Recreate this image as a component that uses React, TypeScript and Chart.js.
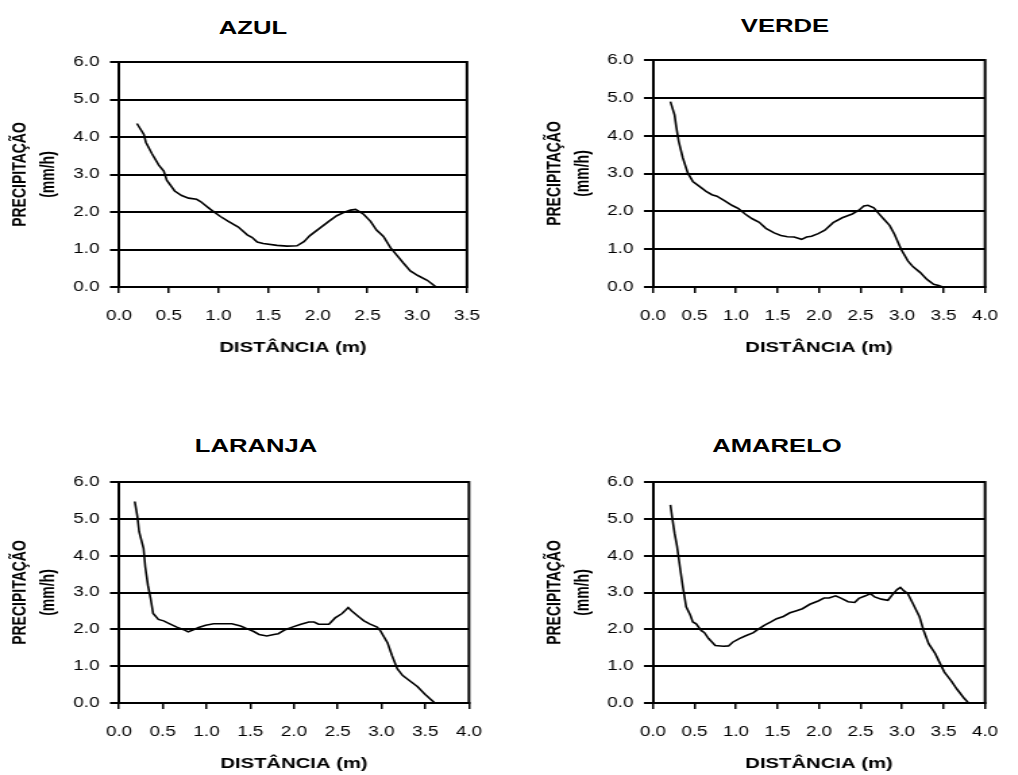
import React, { useEffect, useRef } from 'react';
import { Chart, registerables } from 'chart.js';

Chart.register(...registerables);

// horizontal stretch of the whole figure
const S = 1.35;

const yAxisTitle = ['PRECIPITAÇÃO', '(mm/h)'];
const xAxisTitle = 'DISTÂNCIA (m)';

const azulX = [0.18, 0.25, 0.27, 0.33, 0.40, 0.45, 0.48, 0.56, 0.63, 0.70, 0.78, 0.82, 0.92, 1.02, 1.10, 1.20, 1.29, 1.34, 1.39, 1.45, 1.59, 1.69, 1.79, 1.86, 1.92, 2.02, 2.11, 2.19, 2.28, 2.33, 2.38, 2.46, 2.53, 2.59, 2.66, 2.73, 2.80, 2.86, 2.93, 3.01, 3.10, 3.19];
const azulY = [4.36, 4.07, 3.86, 3.56, 3.25, 3.09, 2.85, 2.56, 2.44, 2.37, 2.34, 2.28, 2.07, 1.88, 1.75, 1.60, 1.39, 1.32, 1.20, 1.16, 1.11, 1.09, 1.10, 1.21, 1.37, 1.57, 1.75, 1.90, 2.01, 2.05, 2.07, 1.94, 1.75, 1.52, 1.35, 1.05, 0.83, 0.64, 0.43, 0.30, 0.18, 0.00];

const verdeX = [0.21, 0.26, 0.28, 0.31, 0.36, 0.42, 0.48, 0.56, 0.64, 0.71, 0.77, 0.87, 0.95, 1.03, 1.11, 1.19, 1.28, 1.36, 1.46, 1.54, 1.62, 1.70, 1.79, 1.85, 1.91, 1.99, 2.07, 2.17, 2.28, 2.40, 2.48, 2.54, 2.59, 2.66, 2.72, 2.79, 2.85, 2.91, 2.99, 3.07, 3.13, 3.22, 3.30, 3.38, 3.44, 3.49];
const verdeY = [4.90, 4.55, 4.24, 3.85, 3.41, 3.01, 2.79, 2.66, 2.53, 2.44, 2.40, 2.27, 2.16, 2.07, 1.93, 1.81, 1.71, 1.55, 1.43, 1.36, 1.33, 1.32, 1.26, 1.32, 1.34, 1.41, 1.50, 1.70, 1.83, 1.93, 2.03, 2.14, 2.16, 2.09, 1.94, 1.77, 1.63, 1.39, 0.99, 0.69, 0.54, 0.38, 0.20, 0.07, 0.04, 0.00];

const laranjaX = [0.18, 0.21, 0.23, 0.28, 0.30, 0.33, 0.36, 0.39, 0.45, 0.51, 0.58, 0.66, 0.74, 0.79, 0.85, 0.91, 0.99, 1.08, 1.20, 1.29, 1.39, 1.46, 1.54, 1.60, 1.69, 1.77, 1.82, 1.90, 1.98, 2.07, 2.17, 2.23, 2.28, 2.40, 2.47, 2.55, 2.62, 2.66, 2.74, 2.80, 2.87, 2.95, 2.99, 3.07, 3.12, 3.18, 3.24, 3.33, 3.41, 3.50, 3.61];
const laranjaY = [5.47, 5.06, 4.65, 4.20, 3.70, 3.20, 2.85, 2.43, 2.27, 2.23, 2.15, 2.06, 1.99, 1.93, 1.99, 2.05, 2.11, 2.15, 2.15, 2.15, 2.09, 2.02, 1.94, 1.86, 1.82, 1.86, 1.88, 1.99, 2.06, 2.13, 2.20, 2.20, 2.14, 2.14, 2.31, 2.43, 2.59, 2.50, 2.34, 2.23, 2.14, 2.06, 1.95, 1.63, 1.29, 0.93, 0.75, 0.59, 0.45, 0.23, 0.00];

const amareloX = [0.21, 0.23, 0.26, 0.29, 0.33, 0.36, 0.38, 0.40, 0.45, 0.48, 0.52, 0.58, 0.62, 0.67, 0.75, 0.85, 0.91, 0.96, 1.04, 1.11, 1.21, 1.26, 1.34, 1.42, 1.49, 1.57, 1.65, 1.72, 1.80, 1.89, 1.99, 2.06, 2.12, 2.20, 2.27, 2.35, 2.43, 2.48, 2.56, 2.62, 2.67, 2.75, 2.83, 2.88, 2.94, 2.98, 3.02, 3.07, 3.13, 3.21, 3.26, 3.32, 3.40, 3.45, 3.51, 3.59, 3.66, 3.74, 3.80];
const amareloY = [5.38, 5.06, 4.61, 4.25, 3.61, 3.15, 2.88, 2.61, 2.38, 2.20, 2.15, 1.97, 1.91, 1.75, 1.56, 1.54, 1.55, 1.65, 1.75, 1.82, 1.91, 1.99, 2.11, 2.20, 2.29, 2.35, 2.45, 2.50, 2.56, 2.68, 2.77, 2.85, 2.85, 2.91, 2.84, 2.75, 2.73, 2.84, 2.91, 2.97, 2.88, 2.82, 2.79, 2.93, 3.08, 3.14, 3.05, 2.97, 2.70, 2.34, 1.97, 1.61, 1.34, 1.11, 0.84, 0.61, 0.38, 0.15, 0.00];

const FONT = "'Liberation Sans', Arial, sans-serif";

const rightBorder = {
  id: 'rightBorder',
  afterDraw(chart: any) {
    const { ctx, chartArea } = chart;
    ctx.save();
    ctx.strokeStyle = '#000';
    ctx.lineWidth = 2;
    ctx.beginPath();
    ctx.moveTo(chartArea.right, chartArea.top - 1);
    ctx.lineTo(chartArea.right, chartArea.bottom + 1);
    ctx.stroke();
    ctx.restore();
  },
};

type PanelProps = {
  title: string;
  xs: number[];
  ys: number[];
  xMax: number;
  left: number;
  top: number;
  w: number;
  h: number;
  plotLeft: number;
  plotRight: number;
  plotTop: number;
  plotBottom: number;
  yTitlePad: number;
  titleX: number;
  titleY: number;
};

function Panel(p: PanelProps) {
  const ref = useRef<HTMLCanvasElement>(null);
  useEffect(() => {
    if (!ref.current) return;
    const Hx = 72;
    const chart = new Chart(ref.current, {
      type: 'line',
      data: {
        datasets: [
          {
            data: p.xs.map((x, i) => ({ x, y: p.ys[i] })),
            borderColor: '#000',
            borderWidth: 1.6,
            pointRadius: 0,
            tension: 0,
            fill: false,
          },
        ],
      },
      options: {
        animation: false,
        responsive: false,
        events: [],
        layout: {
          padding: {
            top: p.plotTop,
            left: 0,
            right: p.w - p.plotRight,
            bottom: p.h - p.plotBottom - Hx,
          },
        },
        plugins: { legend: { display: false }, tooltip: { enabled: false }, title: { display: false } },
        scales: {
          x: {
            type: 'linear',
            min: 0,
            max: p.xMax,
            afterFit: (s: any) => { s.height = Hx; },
            ticks: {
              stepSize: 0.5,
              color: '#000',
              padding: 14.6,
              maxRotation: 0,
              font: { family: FONT, size: 14 },
              callback: (v: any) => Number(v).toFixed(1),
            },
            grid: { drawOnChartArea: false, drawTicks: true, tickLength: 6, color: '#000', lineWidth: 1.5 },
            border: { display: true, color: '#000', width: 2 },
            title: {
              display: true,
              text: xAxisTitle,
              color: '#000',
              font: { family: FONT, size: 15, weight: 'bold' },
              padding: { top: 0, bottom: 2 },
            },
          },
          y: {
            min: 0,
            max: 6,
            afterFit: (s: any) => { s.width = p.plotLeft; },
            ticks: {
              stepSize: 1,
              color: '#000',
              padding: 7.7,
              font: { family: FONT, size: 14 },
              callback: (v: any) => Number(v).toFixed(1),
            },
            grid: { color: '#000', lineWidth: 2, tickLength: 6.7, drawTicks: true },
            border: { display: true, color: '#000', width: 2 },
            title: {
              display: true,
              text: yAxisTitle,
              color: '#000',
              font: { family: FONT, size: 14, weight: 'bold', lineHeight: 1.48 },
              padding: { top: p.yTitlePad, bottom: 0 },
            },
          },
        },
      },
      plugins: [rightBorder],
    } as any);
    return () => chart.destroy();
  }, []);

  return (
    <>
      <div
        style={{
          position: 'absolute',
          left: p.titleX - 150,
          top: p.titleY - 11.8,
          width: 300,
          textAlign: 'center',
          fontFamily: FONT,
          fontWeight: 'bold',
          fontSize: 19,
          lineHeight: '24px',
          color: '#000',
        }}
      >
        {p.title}
      </div>
      <canvas
        ref={ref}
        width={p.w}
        height={p.h}
        style={{ position: 'absolute', left: p.left, top: p.top }}
      />
    </>
  );
}

export default function App() {
  const W = 1018 / S / 2;
  const loc = (fx: number) => fx / S;
  return (
    <div
      style={{
        position: 'absolute',
        left: 0,
        top: 0,
        width: 1018 / S,
        height: 775,
        background: '#fff',
        transform: `scaleX(${S})`,
        transformOrigin: '0 0',
        overflow: 'hidden',
      }}
    >
      <Panel title="AZUL" xs={azulX} ys={azulY} xMax={3.5}
        left={0} top={0} w={W} h={390}
        plotLeft={loc(119)} plotRight={loc(467)} plotTop={62} plotBottom={287}
        yTitlePad={5.2} titleX={loc(253)} titleY={27.5} />
      <Panel title="VERDE" xs={verdeX} ys={verdeY} xMax={4}
        left={W} top={0} w={W} h={390}
        plotLeft={loc(653 - 509)} plotRight={loc(995 - 509)} plotTop={60} plotBottom={287}
        yTitlePad={23.8} titleX={loc(785)} titleY={26} />
      <Panel title="LARANJA" xs={laranjaX} ys={laranjaY} xMax={4}
        left={0} top={390} w={W} h={385}
        plotLeft={loc(119)} plotRight={loc(469)} plotTop={92} plotBottom={313}
        yTitlePad={5.2} titleX={loc(256)} titleY={446} />
      <Panel title="AMARELO" xs={amareloX} ys={amareloY} xMax={4}
        left={W} top={390} w={W} h={385}
        plotLeft={loc(653 - 509)} plotRight={loc(1002 - 509)} plotTop={92} plotBottom={313}
        yTitlePad={23.8} titleX={loc(777)} titleY={446} />
    </div>
  );
}
